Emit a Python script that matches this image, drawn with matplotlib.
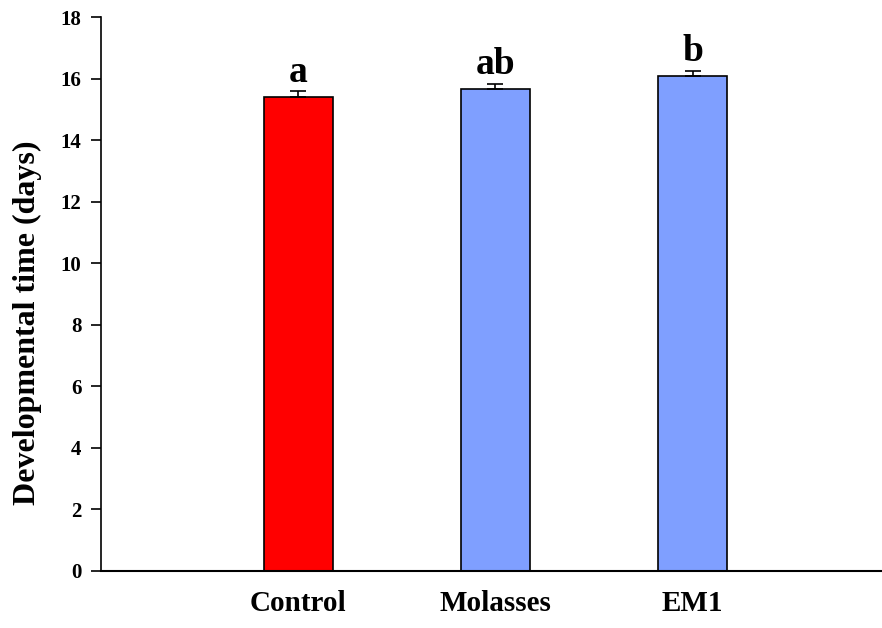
import matplotlib
matplotlib.use('Agg')
from matplotlib import pyplot as plt
import numpy as np

plt.rcParams['font.family'] = ['Liberation Serif', 'DejaVu Serif']
plt.rcParams['font.weight'] = 'bold'

# data
groups = ['Control', 'Molasses', 'EM1']
means = [15.40, 15.67, 16.07]
errs = [0.20, 0.17, 0.19]
letters = ['a', 'ab', 'b']
colors = ['#ff0000', '#7f9fff', '#7f9fff']

fig = plt.figure(figsize=(8.82, 6.28), dpi=100)
ax = fig.add_axes([0.1145, 0.0908, 0.8855, 0.882])

x = np.arange(1, len(groups) + 1)
ax.bar(x, means, width=0.35, color=colors, edgecolor='black', linewidth=1.2, zorder=2)
ax.errorbar(x, means, yerr=[np.zeros(len(errs)), errs], fmt='none', ecolor='black',
            elinewidth=1.2, capsize=6, capthick=1.2, zorder=3)

for xi, m, e, lab in zip(x, means, errs, letters):
    ax.text(xi, m + e + 0.3, lab, ha='center', va='baseline', fontsize=27, fontweight='bold')

ax.set_xlim(0, 3.96)
ax.set_ylim(0, 18)
ax.set_yticks(np.arange(0, 19, 2))
ax.set_xticks(x)
ax.set_xticklabels(groups, fontsize=21, fontweight='bold')
ax.tick_params(axis='x', length=0, pad=14)
ax.tick_params(axis='y', direction='out', length=7, width=1.2, labelsize=15, pad=7)
for lab in ax.get_yticklabels():
    lab.set_fontweight('bold')

ax.spines['top'].set_visible(False)
ax.spines['right'].set_visible(False)
ax.spines['left'].set_linewidth(1.2)
ax.spines['bottom'].set_linewidth(1.5)

ax.set_ylabel('Developmental time (days)', fontsize=23, fontweight='bold')
ax.yaxis.set_label_coords(-0.076, 0.448)

fig.savefig('out.png', dpi=100)
